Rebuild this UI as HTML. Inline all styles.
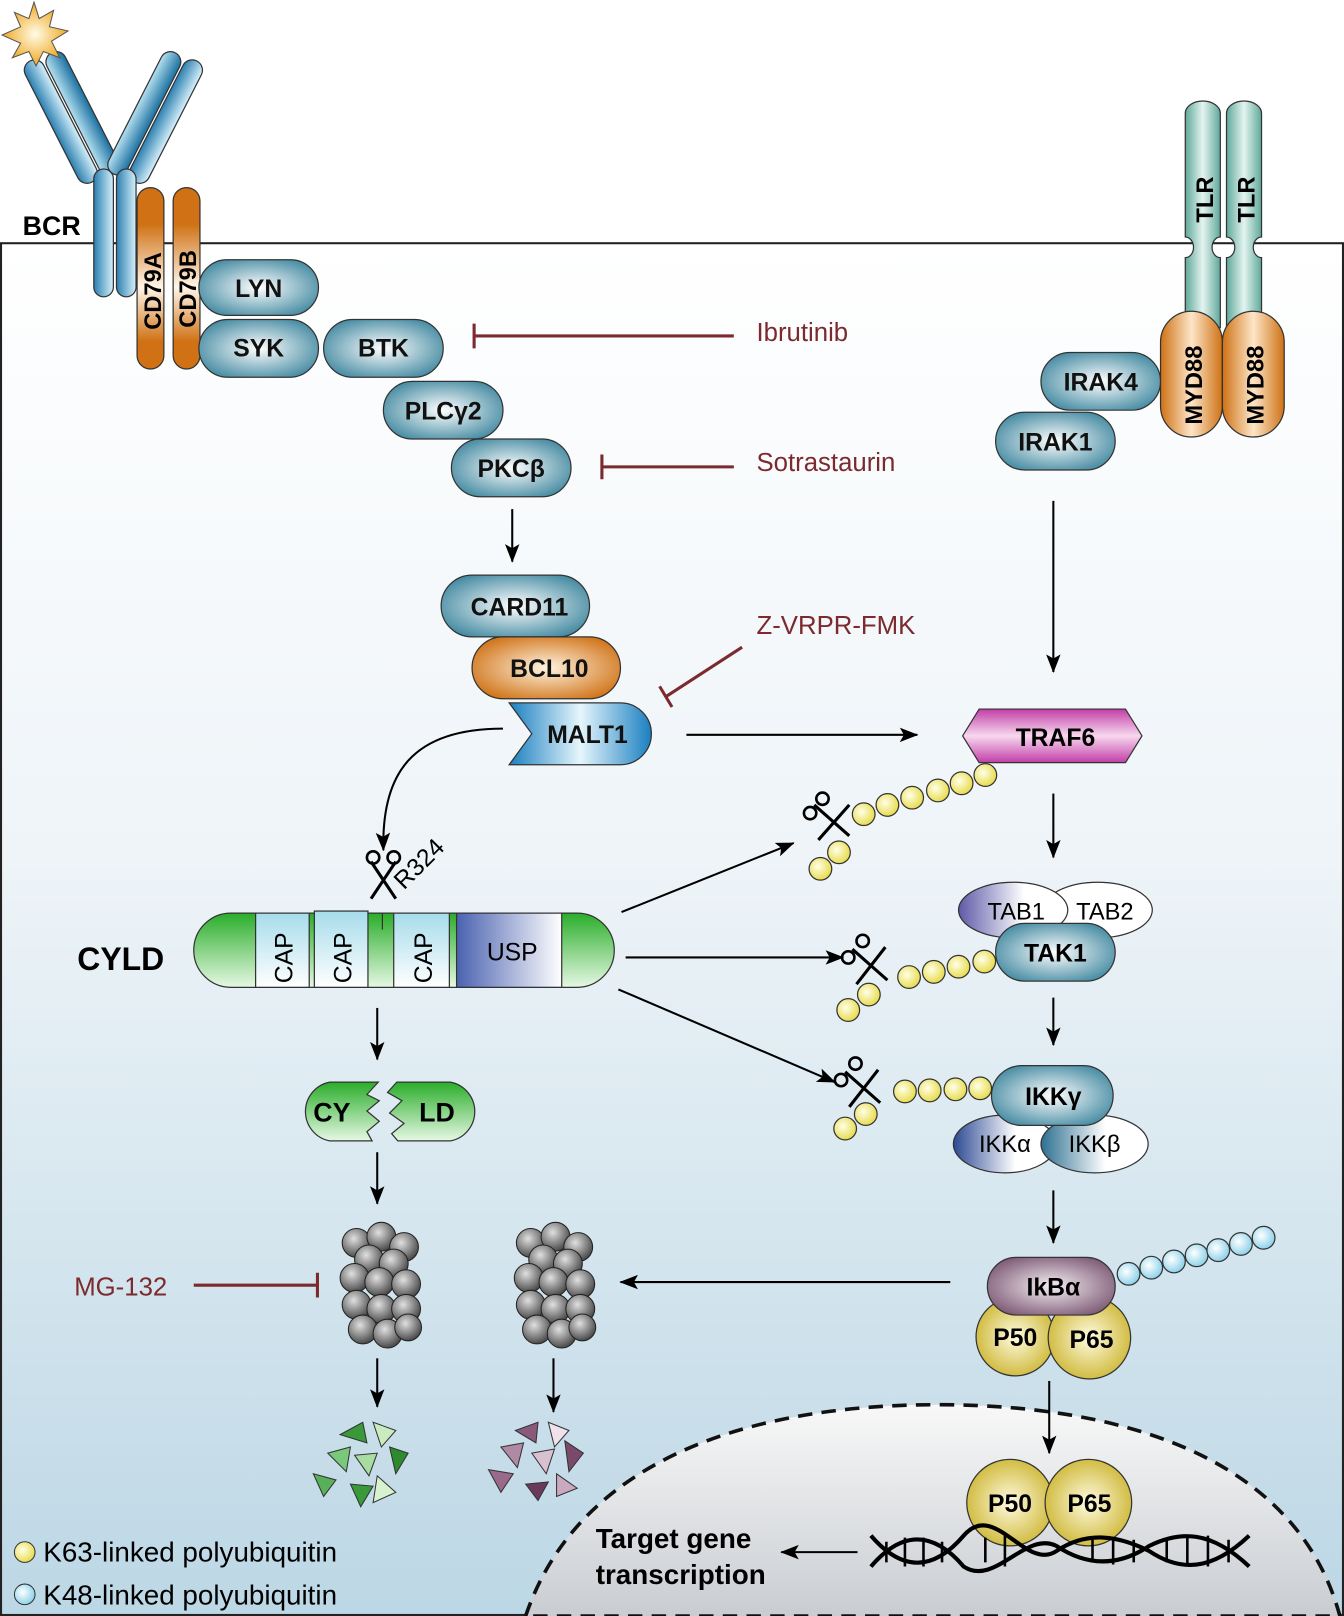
<!DOCTYPE html>
<html><head><meta charset="utf-8"><style>html,body{margin:0;padding:0;background:#fff}svg{display:block}</style></head><body>
<svg width="1344" height="1616" viewBox="0 0 1304 1568" preserveAspectRatio="none" xmlns="http://www.w3.org/2000/svg" font-family="Liberation Sans, Arial, sans-serif">
<defs>
<linearGradient id="cell" x1="0" y1="0" x2="0" y2="1"><stop offset="0" stop-color="#ffffff"/><stop offset="0.45" stop-color="#eef4f8"/><stop offset="1" stop-color="#bcd7e5"/></linearGradient>
<linearGradient id="nuc" x1="0" y1="0" x2="0" y2="1"><stop offset="0" stop-color="#f8f8f8"/><stop offset="1" stop-color="#c9cdd2"/></linearGradient>
<radialGradient id="teal" cx="0.5" cy="0.5" r="0.6"><stop offset="0" stop-color="#ffffff"/><stop offset="1" stop-color="#3f879f"/></radialGradient>
<radialGradient id="orng" cx="0.5" cy="0.5" r="0.6"><stop offset="0" stop-color="#fff3e0"/><stop offset="1" stop-color="#cf7114"/></radialGradient>
<linearGradient id="orngv" x1="0" y1="0" x2="0" y2="1"><stop offset="0" stop-color="#cf7114"/><stop offset="0.2" stop-color="#cf7114"/><stop offset="0.55" stop-color="#fff6e8"/><stop offset="0.85" stop-color="#cf7114"/></linearGradient>
<linearGradient id="orngh" x1="0" y1="0" x2="1" y2="0"><stop offset="0" stop-color="#cf7114"/><stop offset="0.5" stop-color="#fde6c8"/><stop offset="1" stop-color="#cf7114"/></linearGradient>
<linearGradient id="blueh" x1="0" y1="0" x2="1" y2="0"><stop offset="0" stop-color="#b5e0f0"/><stop offset="1" stop-color="#1a6fa0"/></linearGradient>
<linearGradient id="bluel" x1="0" y1="0" x2="1" y2="0"><stop offset="0" stop-color="#2a7fb0"/><stop offset="1" stop-color="#d6f0fa"/></linearGradient>
<linearGradient id="malt" x1="0" y1="0" x2="1" y2="0"><stop offset="0" stop-color="#1a7fc0"/><stop offset="0.5" stop-color="#e6f6fc"/><stop offset="1" stop-color="#1a7fc0"/></linearGradient>
<linearGradient id="tlr" x1="0" y1="0" x2="1" y2="0"><stop offset="0" stop-color="#5fa89a"/><stop offset="0.5" stop-color="#e4f4f0"/><stop offset="1" stop-color="#5fa89a"/></linearGradient>
<linearGradient id="traf" x1="0" y1="0" x2="0" y2="1"><stop offset="0" stop-color="#c23ea8"/><stop offset="0.5" stop-color="#f7d8ee"/><stop offset="1" stop-color="#c23ea8"/></linearGradient>
<linearGradient id="grn" x1="0" y1="0" x2="0" y2="1"><stop offset="0" stop-color="#2aad2a"/><stop offset="1" stop-color="#e6f8e4"/></linearGradient>
<linearGradient id="cap" x1="0" y1="0" x2="0" y2="1"><stop offset="0" stop-color="#a6dcea"/><stop offset="1" stop-color="#ffffff"/></linearGradient>
<linearGradient id="usp" x1="0" y1="0" x2="1" y2="0"><stop offset="0" stop-color="#4a62b0"/><stop offset="1" stop-color="#ffffff"/></linearGradient>
<linearGradient id="tabl" x1="0" y1="0" x2="1" y2="0"><stop offset="0" stop-color="#5d5aa8"/><stop offset="0.6" stop-color="#ffffff"/></linearGradient>
<linearGradient id="ikka" x1="0" y1="0" x2="1" y2="0"><stop offset="0" stop-color="#2c4a92"/><stop offset="0.6" stop-color="#ffffff"/></linearGradient>
<linearGradient id="ikkb" x1="0" y1="0" x2="1" y2="0"><stop offset="0" stop-color="#2d6f90"/><stop offset="0.6" stop-color="#ffffff"/></linearGradient>
<radialGradient id="purp" cx="0.5" cy="0.5" r="0.6"><stop offset="0" stop-color="#f5eef3"/><stop offset="1" stop-color="#7a5672"/></radialGradient>
<radialGradient id="yel" cx="0.5" cy="0.5" r="0.6"><stop offset="0" stop-color="#fffbe0"/><stop offset="1" stop-color="#c8b024"/></radialGradient>
<radialGradient id="ub" cx="0.4" cy="0.4" r="0.6"><stop offset="0" stop-color="#ffffe8"/><stop offset="1" stop-color="#e8dc50"/></radialGradient>
<radialGradient id="ubb" cx="0.4" cy="0.4" r="0.6"><stop offset="0" stop-color="#ffffff"/><stop offset="1" stop-color="#8fd2ea"/></radialGradient>
<radialGradient id="gray" cx="0.4" cy="0.35" r="0.65"><stop offset="0" stop-color="#e0e0e0"/><stop offset="1" stop-color="#4a4a4a"/></radialGradient>
<radialGradient id="star" cx="0.5" cy="0.5" r="0.5"><stop offset="0" stop-color="#fffbe8"/><stop offset="1" stop-color="#f0a820"/></radialGradient>
<marker id="ar2" markerWidth="18" markerHeight="14" refX="17" refY="7" orient="auto" markerUnits="userSpaceOnUse"><path d="M0,0 L18,7 L0,14 L4,7 Z" fill="#000"/></marker>
</defs>

<rect x="0" y="0" width="1304" height="1568" fill="#fff"/>
<rect x="1" y="236" width="1302" height="1331" fill="url(#cell)" stroke="#222" stroke-width="2"/>
<path d="M510,1568 C560,1420 720,1363 910,1363 C1100,1363 1260,1420 1300,1568 Z" fill="url(#nuc)" stroke="#111" stroke-width="3.5" stroke-dasharray="14,9"/>

<!-- BCR -->
<g stroke="#333" stroke-width="1.2">
<rect x="49" y="52" width="20" height="132" rx="10" transform="rotate(-27 59 118)" fill="url(#bluel)"/>
<rect x="70" y="44" width="20" height="132" rx="10" transform="rotate(-27 80 110)" fill="url(#blueh)"/>
<rect x="130" y="44" width="20" height="132" rx="10" transform="rotate(27 140 110)" fill="url(#blueh)"/>
<rect x="151" y="52" width="20" height="132" rx="10" transform="rotate(27 161 118)" fill="url(#bluel)"/>
<rect x="91" y="164" width="19" height="124" rx="9.5" fill="url(#bluel)"/>
<rect x="113" y="164" width="19" height="124" rx="9.5" fill="url(#bluel)"/>
<rect x="133" y="182" width="26" height="176" rx="13" fill="url(#orngv)"/>
<rect x="168" y="182" width="26" height="176" rx="13" fill="url(#orngv)"/>
</g>
<polygon points="33,2 38,18 52,10 48,26 66,30 50,40 58,56 42,50 35,64 28,50 12,56 20,42 2,34 20,26 14,12 28,18" fill="url(#star)" stroke="#555" stroke-width="1"/>
<text x="22" y="228" font-size="26" font-weight="bold">BCR</text>
<text transform="translate(156,320) rotate(-90)" font-size="23" font-weight="bold">CD79A</text>
<text transform="translate(190,318) rotate(-90)" font-size="23" font-weight="bold">CD79B</text>

<!-- Teal pills -->
<g stroke="#333" stroke-width="1.2" fill="url(#teal)">
<rect x="193" y="252" width="116" height="54" rx="27"/>
<rect x="193" y="310" width="116" height="56" rx="28"/>
<rect x="314" y="310" width="116" height="56" rx="28"/>
<rect x="372" y="370" width="116" height="56" rx="28"/>
<rect x="438" y="426" width="116" height="56" rx="28"/>
<rect x="428" y="558" width="144" height="60" rx="30"/>
<rect x="1010" y="342" width="116" height="56" rx="28"/>
<rect x="966" y="400" width="116" height="56" rx="28"/>
</g>
<rect x="458" y="618" width="144" height="60" rx="30" fill="url(#orng)" stroke="#333" stroke-width="1.2"/>
<path d="M500,682 L602,682 A30,30 0 0 1 602,742 L500,742 L494,742 L516,712 L494,682 Z" fill="url(#malt)" stroke="#333" stroke-width="1.2"/>
<g font-size="24" font-weight="bold" text-anchor="middle" fill="#111">
<text x="251" y="288">LYN</text>
<text x="251" y="346">SYK</text>
<text x="372" y="346">BTK</text>
<text x="430" y="407">PLCγ2</text>
<text x="496" y="463">PKCβ</text>
<text x="504" y="597">CARD11</text>
<text x="533" y="657">BCL10</text>
<text x="570" y="721">MALT1</text>
<text x="1068" y="379">IRAK4</text>
<text x="1024" y="437">IRAK1</text>
</g>

<!-- TLR / MYD88 -->
<g stroke="#333" stroke-width="1.2">
<path d="M1150,110 a17,12 0 0 1 34,0 V230 a8,10 0 0 0 0,20 V318 H1150 V250 a8,10 0 0 0 0,-20 Z" fill="url(#tlr)"/>
<path d="M1190,110 a17,12 0 0 1 34,0 V230 a8,10 0 0 0 0,20 V318 H1190 V250 a8,10 0 0 0 0,-20 Z" fill="url(#tlr)"/>
<rect x="1126" y="302" width="60" height="122" rx="30" fill="url(#orngh)"/>
<rect x="1186" y="302" width="60" height="122" rx="30" fill="url(#orngh)"/>
</g>
<g font-size="23" font-weight="bold">
<text transform="translate(1177,216) rotate(-90)">TLR</text>
<text transform="translate(1217,216) rotate(-90)">TLR</text>
<text transform="translate(1166,412) rotate(-90)">MYD88</text>
<text transform="translate(1226,412) rotate(-90)">MYD88</text>
</g>

<!-- inhibitors -->
<g stroke="#7b2a2e" stroke-width="3" fill="none">
<path d="M712,326 H460 M460,314 V338"/>
<path d="M712,453 H584 M584,441 V465"/>
<path d="M720,628 L646,676 M640,666 L652,686"/>
<path d="M188,1247 H308 M308,1235 V1259"/>
</g>
<g font-size="25" fill="#7b2a2e">
<text x="734" y="331">Ibrutinib</text>
<text x="734" y="457">Sotrastaurin</text>
<text x="734" y="615">Z-VRPR-FMK</text>
<text x="72" y="1257">MG-132</text>
</g>

<!-- arrows -->
<g stroke="#000" stroke-width="2" fill="none" marker-end="url(#ar2)">
<path d="M497,494 V545"/>
<path d="M1022,486 V652"/>
<path d="M666,713 H890"/>
<path d="M1022,770 V832"/>
<path d="M1022,968 V1014"/>
<path d="M1022,1155 V1206"/>
<path d="M1018,1340 V1410"/>
<path d="M488,707 C400,707 370,750 372,825"/>
<path d="M603,885 L770,818"/>
<path d="M607,929 H818"/>
<path d="M600,960 L810,1050"/>
<path d="M366,978 V1028"/>
<path d="M366,1118 V1168"/>
<path d="M366,1318 V1365"/>
<path d="M537,1318 V1370"/>
<path d="M922,1244 H602"/>
<path d="M832,1506 H758"/>
</g>

<!-- TRAF6 -->
<polygon points="950,688 1092,688 1108,714 1092,740 950,740 934,714" fill="url(#traf)" stroke="#333" stroke-width="1.2"/>
<text x="1024" y="724" font-size="24" font-weight="bold" text-anchor="middle">TRAF6</text>

<!-- TAB1/2 -->
<ellipse cx="1065" cy="883" rx="53" ry="27" fill="#fff" stroke="#333" stroke-width="1.2"/>
<ellipse cx="983" cy="883" rx="53" ry="27" fill="url(#tabl)" stroke="#333" stroke-width="1.2"/>
<rect x="966" y="896" width="116" height="56" rx="28" fill="url(#teal)" stroke="#333" stroke-width="1.2"/>
<text x="1024" y="933" font-size="24" font-weight="bold" text-anchor="middle">TAK1</text>
<text x="986" y="892" font-size="23" text-anchor="middle">TAB1</text>
<text x="1072" y="892" font-size="23" text-anchor="middle">TAB2</text>

<!-- IKK -->
<ellipse cx="975" cy="1110" rx="50" ry="28" fill="url(#ikka)" stroke="#333" stroke-width="1.2"/>
<ellipse cx="1062" cy="1110" rx="52" ry="28" fill="url(#ikkb)" stroke="#333" stroke-width="1.2"/>
<rect x="962" y="1034" width="118" height="58" rx="29" fill="url(#teal)" stroke="#333" stroke-width="1.2"/>
<text x="1022" y="1072" font-size="24" font-weight="bold" text-anchor="middle">IKKγ</text>
<text x="975" y="1118" font-size="23" text-anchor="middle">IKKα</text>
<text x="1062" y="1118" font-size="23" text-anchor="middle">IKKβ</text>

<!-- IkBa / NF-kB -->
<g fill="url(#ubb)" stroke="#333" stroke-width="1.2">
<circle cx="1095" cy="1236" r="11"/><circle cx="1117" cy="1230" r="11"/><circle cx="1139" cy="1224" r="11"/><circle cx="1161" cy="1218" r="11"/><circle cx="1182" cy="1213" r="11"/><circle cx="1204" cy="1207" r="11"/><circle cx="1226" cy="1201" r="11"/>
</g>
<circle cx="985" cy="1297" r="38" fill="url(#yel)" stroke="#333" stroke-width="1.2"/>
<circle cx="1057" cy="1298" r="40" fill="url(#yel)" stroke="#333" stroke-width="1.2"/>
<rect x="958" y="1220" width="124" height="56" rx="28" fill="url(#purp)" stroke="#333" stroke-width="1.2"/>
<g font-size="24" font-weight="bold" text-anchor="middle">
<text x="1022" y="1257">IkBα</text>
<text x="985" y="1306">P50</text>
<text x="1059" y="1308">P65</text>
</g>
<circle cx="980" cy="1458" r="42" fill="url(#yel)" stroke="#333" stroke-width="1.2"/>
<circle cx="1056" cy="1458" r="42" fill="url(#yel)" stroke="#333" stroke-width="1.2"/>
<text x="980" y="1467" font-size="24" font-weight="bold" text-anchor="middle">P50</text>
<text x="1057" y="1467" font-size="24" font-weight="bold" text-anchor="middle">P65</text>

<!-- ubiquitin chains -->
<g fill="url(#ub)" stroke="#333" stroke-width="1.2">
<circle cx="956" cy="752" r="11"/><circle cx="933" cy="760" r="11"/><circle cx="910" cy="767" r="11"/><circle cx="885" cy="774" r="11"/><circle cx="861" cy="781" r="11"/><circle cx="838" cy="790" r="11"/><circle cx="814" cy="827" r="11"/><circle cx="796" cy="843" r="11"/>
<circle cx="955" cy="933" r="11"/><circle cx="930" cy="938" r="11"/><circle cx="906" cy="943" r="11"/><circle cx="882" cy="948" r="11"/><circle cx="843" cy="965" r="11"/><circle cx="823" cy="980" r="11"/>
<circle cx="951" cy="1056" r="11"/><circle cx="927" cy="1057" r="11"/><circle cx="902" cy="1058" r="11"/><circle cx="878" cy="1059" r="11"/><circle cx="840" cy="1081" r="11"/><circle cx="820" cy="1095" r="11"/>
</g>
<!-- scissors -->
<g stroke="#000" stroke-width="3" fill="none">
<g transform="translate(808,797)"><path d="M-18,-16 L16,14 M16,-16 L-14,18"/><circle cx="-10" cy="-22" r="6" stroke-width="2.5"/><circle cx="-22" cy="-8" r="6" stroke-width="2.5"/></g>
<g transform="translate(845,937)"><path d="M-18,-16 L16,14 M14,-18 L-14,18"/><circle cx="-8" cy="-24" r="6" stroke-width="2.5"/><circle cx="-22" cy="-8" r="6" stroke-width="2.5"/></g>
<g transform="translate(838,1056)"><path d="M-18,-16 L16,14 M14,-18 L-14,18"/><circle cx="-8" cy="-24" r="6" stroke-width="2.5"/><circle cx="-22" cy="-8" r="6" stroke-width="2.5"/></g>
<g transform="translate(372,852)"><path d="M-12,-16 L12,20 M12,-16 L-12,20"/><circle cx="-10" cy="-20" r="6" stroke-width="2.5"/><circle cx="10" cy="-20" r="6" stroke-width="2.5"/></g>
</g>
<text transform="translate(392,864) rotate(-45)" font-size="24">R324</text>

<!-- CYLD -->
<path d="M224,886 H560 A36,36 0 0 1 560,958 H224 A36,36 0 0 1 224,886 Z" fill="url(#grn)" stroke="#333" stroke-width="1.2"/>
<g stroke="#333" stroke-width="1.2">
<rect x="248" y="886" width="52" height="72" fill="url(#cap)"/>
<rect x="305" y="884" width="52" height="74" fill="url(#cap)"/>
<rect x="382" y="886" width="54" height="72" fill="url(#cap)"/>
<rect x="443" y="886" width="102" height="72" fill="url(#usp)"/>
<path d="M371,886 V902"/>
</g>
<g font-size="24">
<text transform="translate(284,954) rotate(-90)">CAP</text>
<text transform="translate(341,954) rotate(-90)">CAP</text>
<text transform="translate(419,954) rotate(-90)">CAP</text>
<text x="497" y="932" text-anchor="middle">USP</text>
</g>
<text x="75" y="941" font-size="31" font-weight="bold">CYLD</text>

<!-- CY / LD -->
<path d="M320,1050 H367 L356,1062 L368,1068 L356,1078 L368,1088 L356,1098 L361,1107 H320 A29,29 0 0 1 320,1050 Z" fill="url(#grn)" stroke="#333" stroke-width="1.2"/>
<path d="M385,1050 H437 A29,29 0 0 1 437,1107 H386 L380,1100 L392,1090 L378,1080 L390,1068 L376,1060 Z" fill="url(#grn)" stroke="#333" stroke-width="1.2"/>
<text x="322" y="1088" font-size="26" font-weight="bold" text-anchor="middle">CY</text>
<text x="424" y="1088" font-size="26" font-weight="bold" text-anchor="middle">LD</text>

<!-- proteasomes -->
<g id="prot" fill="url(#gray)" stroke="#222" stroke-width="1">
<circle cx="346" cy="1206" r="14"/><circle cx="370" cy="1200" r="14"/><circle cx="392" cy="1210" r="14"/><circle cx="358" cy="1222" r="14"/><circle cx="382" cy="1226" r="14"/>
<circle cx="344" cy="1240" r="14"/><circle cx="368" cy="1244" r="14"/><circle cx="394" cy="1246" r="14"/>
<circle cx="346" cy="1266" r="14"/><circle cx="370" cy="1270" r="14"/><circle cx="394" cy="1270" r="14"/>
<circle cx="352" cy="1290" r="14"/><circle cx="376" cy="1294" r="14"/><circle cx="396" cy="1288" r="13"/>
</g>
<use href="#prot" transform="translate(169,0)"/>

<!-- fragments -->
<g stroke="#333" stroke-width="1">
<polygon points="330,1392 352,1380 356,1400" fill="#3a9a3a"/><polygon points="362,1380 384,1388 370,1404" fill="#c8ecc0"/>
<polygon points="318,1410 340,1404 336,1428" fill="#7ac87a"/><polygon points="378,1404 396,1410 384,1430" fill="#2e8a2e"/>
<polygon points="344,1412 366,1410 358,1432" fill="#a8dca0"/><polygon points="304,1430 326,1436 314,1452" fill="#5ab05a"/>
<polygon points="340,1440 362,1442 350,1462" fill="#3a9a3a"/><polygon points="366,1432 384,1448 362,1458" fill="#d8f2d0"/>
<polygon points="500,1388 522,1380 520,1400" fill="#8a5a7c"/><polygon points="532,1380 552,1388 538,1404" fill="#f0e2ea"/>
<polygon points="486,1404 508,1400 502,1424" fill="#b08aa4"/><polygon points="548,1398 566,1410 552,1428" fill="#7a4a6c"/>
<polygon points="516,1410 538,1406 530,1430" fill="#d8c0d0"/><polygon points="474,1426 498,1430 486,1448" fill="#9a6a8c"/>
<polygon points="510,1440 532,1438 522,1456" fill="#6a3a5c"/><polygon points="540,1430 560,1444 540,1452" fill="#caa8c0"/>
</g>

<!-- DNA -->
<g stroke="#000" stroke-width="4" fill="none">
<path d="M845,1490 C875,1525 905,1525 935,1490 C965,1455 995,1525 1025,1505 C1055,1485 1085,1490 1115,1505 C1145,1525 1175,1525 1212,1490"/>
<path d="M845,1520 C875,1485 905,1485 935,1520 C965,1540 995,1485 1025,1500 C1055,1520 1085,1520 1115,1500 C1145,1485 1175,1485 1212,1520"/>
</g>
<g stroke="#000" stroke-width="2.5">
<path d="M860,1496 V1516 M878,1492 V1520 M896,1492 V1520 M914,1496 V1516 M956,1492 V1516 M975,1490 V1520 M1060,1494 V1516 M1080,1492 V1518 M1100,1494 V1516 M1132,1494 V1516 M1152,1490 V1520 M1172,1490 V1520 M1192,1494 V1516"/>
</g>
<text x="578" y="1502" font-size="27" font-weight="bold">Target gene</text>
<text x="578" y="1537" font-size="27" font-weight="bold">transcription</text>

<!-- legend -->
<circle cx="24" cy="1506" r="10" fill="url(#ub)" stroke="#333"/>
<circle cx="24" cy="1547" r="10" fill="url(#ubb)" stroke="#333"/>
<text x="42" y="1515" font-size="27">K63-linked polyubiquitin</text>
<text x="42" y="1557" font-size="27">K48-linked polyubiquitin</text>
</svg>
</body></html>
